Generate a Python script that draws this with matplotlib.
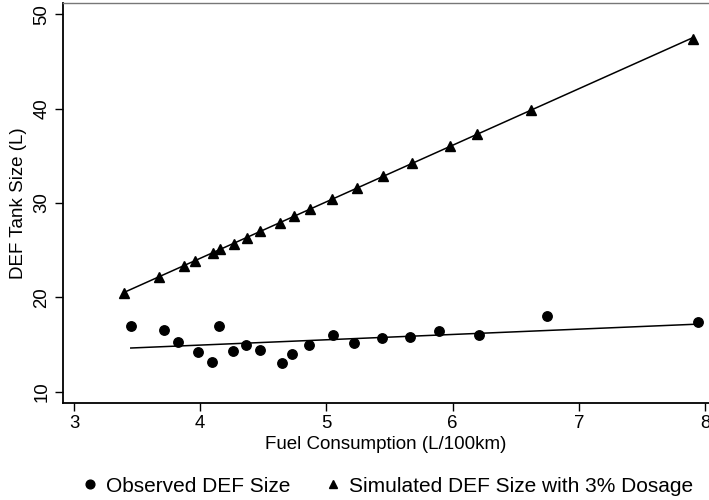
import numpy as np
import matplotlib
matplotlib.use("Agg")
import matplotlib.pyplot as plt
from matplotlib.lines import Line2D

# Observed DEF size
obs_x = [3.45, 3.71, 3.82, 3.98, 4.09, 4.15, 4.26, 4.36, 4.47, 4.65,
         4.73, 4.86, 5.05, 5.22, 5.44, 5.66, 5.89, 6.21, 6.75, 7.94]
obs_y = [17.0, 16.5, 15.3, 14.2, 13.1, 17.0, 14.3, 15.0, 14.4, 13.0,
         14.0, 15.0, 16.0, 15.2, 15.7, 15.8, 16.4, 16.0, 18.0, 17.4]

# Simulated DEF size with 3% dosage
sim_x = [3.40, 3.67, 3.87, 3.96, 4.10, 4.16, 4.27, 4.37, 4.47, 4.63,
         4.74, 4.87, 5.04, 5.24, 5.45, 5.68, 5.98, 6.19, 6.62, 7.90]
sim_y = [20.5, 22.2, 23.3, 23.9, 24.7, 25.1, 25.7, 26.3, 27.0, 27.9,
         28.6, 29.4, 30.4, 31.6, 32.9, 34.2, 36.0, 37.3, 39.9, 47.4]

x_ticks = [3, 4, 5, 6, 7, 8]
y_ticks = [10, 20, 30, 40, 50]
labels = ["Observed DEF Size", "Simulated DEF Size with 3% Dosage"]

plt.rcParams['font.family'] = ['Liberation Sans', 'DejaVu Sans']

fig = plt.figure(figsize=(7.09, 5.0), dpi=100)
ax = fig.add_axes([63/709, 1-403/500, 1-63/709, 400/500])

ox = np.array(obs_x); oy = np.array(obs_y)
sx = np.array(sim_x); sy = np.array(sim_y)

for xs, ys in ((ox, oy), (sx, sy)):
    b, a = np.polyfit(xs, ys, 1)
    xx = np.array([xs.min(), xs.max()])
    ax.plot(xx, a + b*xx, color='black', lw=1.1, zorder=2)

ax.plot(ox, oy, 'o', color='black', ms=6.8, zorder=3)
ax.plot(sx, sy, '^', color='black', ms=7.3, zorder=3)

ax.set_xlim(2.913, 8.03)
ax.set_ylim(8.8, 51.2)
ax.set_xticks(x_ticks)
ax.set_yticks(y_ticks)
ax.set_yticklabels([str(v) for v in y_ticks], rotation=90, va='center')
ax.tick_params(axis='both', direction='out', length=6, width=1, labelsize=13.4, colors='black')
ax.tick_params(axis='y', pad=3.2)
ax.tick_params(axis='x', pad=3.0)

ax.spines['right'].set_visible(False)
ax.spines['top'].set_color('#777777')
ax.spines['top'].set_linewidth(1.0)
ax.spines['left'].set_linewidth(1.3)
ax.spines['bottom'].set_linewidth(1.3)

ax.set_xlabel("Fuel Consumption (L/100km)", fontsize=13.5, labelpad=2.5)
ax.set_ylabel("DEF Tank Size (L)", fontsize=13.5, labelpad=4.5)

handles = [Line2D([], [], marker='o', color='black', ls='none', ms=6.3),
           Line2D([], [], marker='^', color='black', ls='none', ms=6.3)]
fig.legend(handles, labels, loc='center', bbox_to_anchor=(387.4/709, 1-486/500),
           ncol=2, frameon=False, fontsize=15, handletextpad=0.4,
           columnspacing=1.62, handlelength=0.8)

fig.savefig("out.png", dpi=100)
